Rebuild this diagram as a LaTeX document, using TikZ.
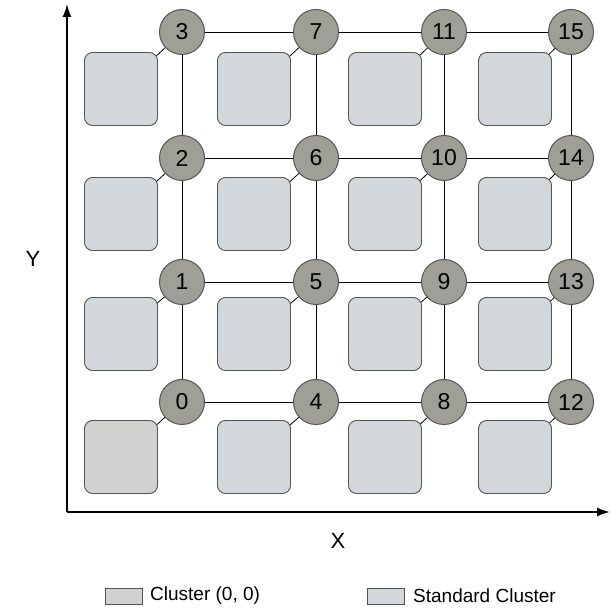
\documentclass[tikz,border=0pt]{standalone}
\usepackage{fontspec}
\setmainfont{Liberation Sans}
\usetikzlibrary{arrows.meta,backgrounds}
\definecolor{routerfill}{HTML}{9F9F98}
\definecolor{clusterfill}{HTML}{D1D7DA}
\definecolor{originfill}{HTML}{D1D2CF}
\definecolor{edgegray}{HTML}{555555}
\begin{document}
\begin{tikzpicture}[x=1pt,y=-1pt,
  router/.style={circle,draw=edgegray,line width=1pt,fill=routerfill,minimum size=45pt,inner sep=0pt,font=\fontsize{23}{23}\selectfont},
  cluster/.style={rectangle,rounded corners=8pt,draw=edgegray,line width=0.9pt,fill=clusterfill,minimum size=73pt,inner sep=0pt},
  origin/.style={cluster,fill=originfill},
  link/.style={draw=black,line width=0.8pt},
  axis/.style={draw=black,line width=1.8pt,-{Latex[length=13pt,width=9pt]}},
  legbox/.style={rectangle,draw=edgegray,line width=0.9pt,minimum width=37pt,minimum height=16pt,inner sep=0pt},
  legtext/.style={anchor=west,inner sep=0pt,font=\fontsize{19}{19}\selectfont},
  axlabel/.style={font=\fontsize{22}{22}\selectfont}]
\useasboundingbox (0,0) rectangle (611,609);
% axes
\coordinate (o) at (67,512);
\coordinate (ytip) at (67,4);
\coordinate (xtip) at (610,512);
\draw[axis] (o) -- (ytip);
\draw[axis] (o) -- (xtip);
\node[axlabel] (ylab) at (33,259) {Y};
\node[axlabel] (xlab) at (338,541) {X};
% routers
\foreach \c/\x in {0/182,1/316,2/444,3/571}{
  \foreach \r/\y in {0/402,1/282,2/158,3/32}{
    \pgfmathtruncatemacro{\idx}{4*\c+\r}
    \node[router] (r\idx) at (\x,\y) {\idx};
  }
}
% clusters
\foreach \c/\x in {0/121,1/254,2/385,3/515}{
  \foreach \r/\y in {0/457,1/334,2/214,3/89}{
    \pgfmathtruncatemacro{\idx}{4*\c+\r}
    \ifnum\idx=0
      \node[origin] (c\idx) at (\x,\y) {};
    \else
      \node[cluster] (c\idx) at (\x,\y) {};
    \fi
  }
}
\begin{pgfonlayer}{background}
  \foreach \i in {0,...,15}{ \draw[link] (c\i.center) -- (r\i.center); }
  \foreach \a/\b in {0/1,1/2,2/3,4/5,5/6,6/7,8/9,9/10,10/11,12/13,13/14,14/15,
                     0/4,4/8,8/12,1/5,5/9,9/13,2/6,6/10,10/14,3/7,7/11,11/15}{
    \draw[link] (r\a.center) -- (r\b.center);
  }
\end{pgfonlayer}
% legend
\node[legbox,fill=originfill] (lb1) at (123.5,596.5) {};
\node[legtext] (lt1) at (150,596) {Cluster (0, 0)};
\node[legbox,fill=clusterfill] (lb2) at (386,596.5) {};
\node[legtext] (lt2) at (413,596) {Standard Cluster};
\end{tikzpicture}
\end{document}
